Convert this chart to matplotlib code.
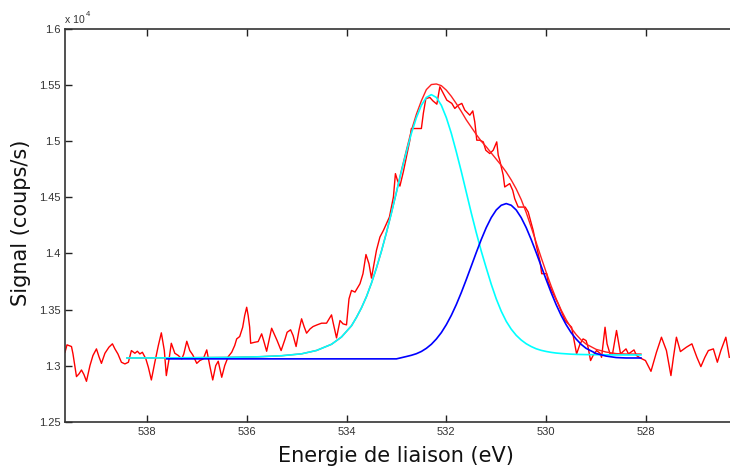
import matplotlib
matplotlib.use("Agg")
import matplotlib.pyplot as plt

# ---------------- data (signal in units of 1e4 counts/s) ----------------
energy_data = [
    539.64, 539.60, 539.51, 539.48, 539.41, 539.36, 539.31, 539.26, 539.21, 539.14,
    539.08, 539.01, 538.96, 538.91, 538.84, 538.76, 538.69, 538.64, 538.58, 538.51,
    538.44, 538.37, 538.31, 538.24, 538.19, 538.14, 538.09, 538.02, 537.97, 537.91,
    537.84, 537.77, 537.71, 537.65, 537.61, 537.55, 537.51, 537.44, 537.37, 537.30,
    537.26, 537.20, 537.14, 537.08, 537.00, 536.94, 536.87, 536.80, 536.74, 536.68,
    536.62, 536.57, 536.50, 536.44, 536.37, 536.30, 536.24, 536.20, 536.14, 536.08,
    536.04, 536.00, 535.97, 535.94, 535.92, 535.84, 535.77, 535.70, 535.66, 535.60,
    535.50, 535.45, 535.39, 535.31, 535.23, 535.19, 535.12, 535.07, 535.01, 534.95,
    534.90, 534.85, 534.80, 534.73, 534.67, 534.59, 534.50, 534.40, 534.30, 534.27,
    534.20, 534.13, 534.07, 534.00, 533.95, 533.90, 533.83, 533.73, 533.67, 533.61,
    533.55, 533.50, 533.46, 533.40, 533.33, 533.26, 533.20, 533.14, 533.10, 533.06,
    533.02, 532.98, 532.93, 532.86, 532.80, 532.73, 532.70, 532.50, 532.46, 532.41,
    532.33, 532.27, 532.19, 532.13, 532.06, 531.99, 531.89, 531.83, 531.76, 531.69,
    531.63, 531.53, 531.47, 531.43, 531.39, 531.33, 531.26, 531.21, 531.13, 531.06,
    530.99, 530.96, 530.93, 530.86, 530.83, 530.73, 530.67, 530.63, 530.56, 530.42,
    530.36, 530.26, 530.19, 530.12, 530.09, 529.99, 529.96, 529.89, 529.76, 529.62,
    529.49, 529.44, 529.39, 529.32, 529.26, 529.20, 529.16, 529.11, 529.06, 528.99,
    528.92, 528.89, 528.82, 528.78, 528.72, 528.67, 528.59, 528.51, 528.40, 528.35,
    528.24, 528.19, 528.12, 528.01, 527.90, 527.79, 527.69, 527.59, 527.50, 527.45,
    527.39, 527.31, 527.19, 527.08, 526.98, 526.90, 526.82, 526.75, 526.65, 526.57,
    526.50, 526.40, 526.33,
]
signal_data = [
    1.3119, 1.3185, 1.3170, 1.3104, 1.2902, 1.2926, 1.2961, 1.2920, 1.2860, 1.3000,
    1.3090, 1.3149, 1.3080, 1.3020, 1.3110, 1.3164, 1.3194, 1.3149, 1.3104, 1.3030,
    1.3015, 1.3030, 1.3134, 1.3110, 1.3128, 1.3104, 1.3119, 1.3060, 1.2985, 1.2872,
    1.3030, 1.3179, 1.3292, 1.3134, 1.2911, 1.3074, 1.3199, 1.3110, 1.3090, 1.3060,
    1.3104, 1.3217, 1.3134, 1.3095, 1.3020, 1.3045, 1.3060, 1.3140, 1.3000, 1.2872,
    1.3000, 1.3039, 1.2896, 1.3000, 1.3080, 1.3119, 1.3179, 1.3238, 1.3259, 1.3342,
    1.3446, 1.3520, 1.3446, 1.3342, 1.3199, 1.3208, 1.3214, 1.3283, 1.3223, 1.3128,
    1.3333, 1.3283, 1.3223, 1.3134, 1.3238, 1.3297, 1.3319, 1.3268, 1.3170, 1.3319,
    1.3417, 1.3348, 1.3289, 1.3327, 1.3348, 1.3363, 1.3378, 1.3378, 1.3452, 1.3387,
    1.3247, 1.3402, 1.3372, 1.3363, 1.3595, 1.3670, 1.3655, 1.3730, 1.3819, 1.3990,
    1.3908, 1.3780, 1.3878, 1.4027, 1.4146, 1.4205, 1.4265, 1.4324, 1.4413, 1.4503,
    1.4711, 1.4652, 1.4600, 1.4730, 1.4860, 1.5010, 1.5113, 1.5113, 1.5250, 1.5380,
    1.5390, 1.5360, 1.5330, 1.5485, 1.5426, 1.5366, 1.5337, 1.5292, 1.5321, 1.5337,
    1.5277, 1.5232, 1.5270, 1.5172, 1.5009, 1.5009, 1.4994, 1.4920, 1.4890, 1.4920,
    1.4994, 1.4875, 1.4830, 1.4696, 1.4592, 1.4622, 1.4562, 1.4488, 1.4413, 1.4413,
    1.4369, 1.4205, 1.4056, 1.3922, 1.3819, 1.3819, 1.3744, 1.3670, 1.3551, 1.3402,
    1.3342, 1.3223, 1.3104, 1.3194, 1.3238, 1.3223, 1.3164, 1.3045, 1.3090, 1.3134,
    1.3110, 1.3074, 1.3342, 1.3194, 1.3104, 1.3104, 1.3313, 1.3104, 1.3149, 1.3104,
    1.3140, 1.3090, 1.3069, 1.3045, 1.2949, 1.3119, 1.3253, 1.3134, 1.2911, 1.3074,
    1.3253, 1.3125, 1.3164, 1.3194, 1.3074, 1.2991, 1.3074, 1.3134, 1.3149, 1.3030,
    1.3134, 1.3253, 1.3074,
]

# fitted components
energy_fit = [
    538.4, 537.6, 537.0, 536.4, 535.8, 535.3, 534.9, 534.6, 534.3, 534.1, 533.9,
    533.8, 533.7, 533.6, 533.5, 533.4, 533.3, 533.2, 533.1, 533.0, 532.9,
    532.8, 532.7, 532.6, 532.5, 532.4, 532.3, 532.2, 532.1, 532.0, 531.9,
    531.8, 531.7, 531.6, 531.5, 531.4, 531.3, 531.2, 531.1, 531.0, 530.9,
    530.8, 530.7, 530.6, 530.5, 530.4, 530.3, 530.2, 530.1, 530.0, 529.9,
    529.8, 529.7, 529.6, 529.5, 529.4, 529.3, 529.2, 529.0, 528.8, 528.6,
    528.4, 528.1,
]
peak_532 = [
    1.3068, 1.3069, 1.3071, 1.3073, 1.3078, 1.3088, 1.3105, 1.3135, 1.3190, 1.3255, 1.3355,
    1.3430, 1.3515, 1.3615, 1.3735, 1.3870, 1.4020, 1.4185, 1.4360, 1.4545, 1.4730,
    1.4905, 1.5070, 1.5210, 1.5320, 1.5390, 1.5415, 1.5390, 1.5320, 1.5210, 1.5070,
    1.4905, 1.4730, 1.4545, 1.4360, 1.4185, 1.4020, 1.3870, 1.3725, 1.3595, 1.3485,
    1.3395, 1.3325, 1.3270, 1.3228, 1.3195, 1.3170, 1.3150, 1.3136, 1.3126, 1.3118,
    1.3112, 1.3108, 1.3105, 1.3102, 1.3100, 1.3099, 1.3098, 1.3097, 1.3096, 1.3095,
    1.3095, 1.3095,
]
envelope = [
    1.3068, 1.3069, 1.3071, 1.3073, 1.3078, 1.3088, 1.3105, 1.3135, 1.3190, 1.3255, 1.3355,
    1.3430, 1.3515, 1.3615, 1.3735, 1.3870, 1.4020, 1.4185, 1.4360, 1.4545, 1.4740,
    1.4920, 1.5095, 1.5240, 1.5360, 1.5460, 1.5505, 1.5510, 1.5495, 1.5455, 1.5400,
    1.5335, 1.5265, 1.5190, 1.5125, 1.5060, 1.5000, 1.4950, 1.4895, 1.4840, 1.4785,
    1.4725, 1.4655, 1.4575, 1.4480, 1.4365, 1.4234, 1.4098, 1.3963, 1.3833, 1.3709,
    1.3596, 1.3496, 1.3410, 1.3336, 1.3277, 1.3229, 1.3192, 1.3145, 1.3121, 1.3107,
    1.3103, 1.3103,
]
energy_blue = [
    537.6, 537.0, 536.0, 535.0, 534.0, 533.0, 532.8, 532.7, 532.6, 532.5, 532.4,
    532.3, 532.2, 532.1, 532.0, 531.9, 531.8, 531.7, 531.6, 531.5, 531.4,
    531.3, 531.2, 531.1, 531.0, 530.9, 530.8, 530.7, 530.6, 530.5, 530.4,
    530.3, 530.2, 530.1, 530.0, 529.9, 529.8, 529.7, 529.6, 529.5, 529.4,
    529.3, 529.2, 529.0, 528.8, 528.6, 528.4, 528.1,
]
peak_530 = [
    1.3060, 1.3060, 1.3060, 1.3060, 1.3060, 1.3060, 1.3081, 1.3092, 1.3106, 1.3126, 1.3154,
    1.3190, 1.3237, 1.3294, 1.3365, 1.3448, 1.3544, 1.3651, 1.3767, 1.3887, 1.4008,
    1.4124, 1.4230, 1.4319, 1.4387, 1.4429, 1.4444, 1.4429, 1.4387, 1.4319, 1.4230,
    1.4124, 1.4008, 1.3887, 1.3767, 1.3651, 1.3544, 1.3448, 1.3365, 1.3294, 1.3237,
    1.3190, 1.3154, 1.3108, 1.3085, 1.3072, 1.3068, 1.3068,
]

x_ticks = [538, 536, 534, 532, 530, 528]
y_ticks = [1.25, 1.3, 1.35, 1.4, 1.45, 1.5, 1.55, 1.6]
y_tick_labels = ["1.25", "1.3", "1.35", "1.4", "1.45", "1.5", "1.55", "1.6"]

# ---------------- figure ----------------
W, H = 730, 467
fig = plt.figure(figsize=(W / 100, H / 100), dpi=100)
fig.patch.set_facecolor("white")

left, right = 65, 745.8
top, bottom = 29, 421.7
ax = fig.add_axes([left / W, (H - bottom) / H, (right - left) / W, (bottom - top) / H])

ax.plot(energy_data, signal_data, color="#ff0000", lw=1.0, zorder=2)
ax.plot(energy_fit, envelope, color="#ff2020", lw=1.0, zorder=3)
ax.plot(energy_fit, peak_532, color="#00ffff", lw=1.2, zorder=4)
ax.plot(energy_blue, peak_530, color="#0000ff", lw=1.2, zorder=5)

ax.set_xlim(539.64, 526.0)
ax.set_ylim(1.25, 1.6)
ax.set_xticks(x_ticks)
ax.set_xticklabels([str(t) for t in x_ticks])
ax.set_yticks(y_ticks)
ax.set_yticklabels(y_tick_labels)

for lab in ax.get_xticklabels() + ax.get_yticklabels():
    lab.set_fontfamily("Liberation Sans")
    lab.set_fontsize(8)
    lab.set_color("#333333")

ax.tick_params(axis="both", direction="in", length=5, width=1.0, color="#222222",
               top=True, right=False)
ax.tick_params(axis="x", pad=4)
ax.tick_params(axis="y", pad=3)
for s in ["left", "bottom", "top"]:
    ax.spines[s].set_color("#333333")
    ax.spines[s].set_linewidth(1.2)
ax.spines["right"].set_visible(False)

fig.text(21 / W, 1 - 223 / H, "Signal (coups/s)", rotation=90, ha="center", va="center",
         fontsize=15, family="DejaVu Sans", color="#111111")
fig.text(396 / W, 1 - 456 / H, "Energie de liaison (eV)", ha="center", va="center",
         fontsize=15, family="DejaVu Sans", color="#111111")

fig.text(65 / W, 1 - 23 / H, "x 10", ha="left", va="baseline", fontsize=7.5,
         family="Liberation Sans", color="#333333")
fig.text(86 / W, 1 - 16 / H, "4", ha="left", va="baseline", fontsize=5.5,
         family="Liberation Sans", color="#333333")

fig.savefig("out.png", dpi=100, facecolor="white")
